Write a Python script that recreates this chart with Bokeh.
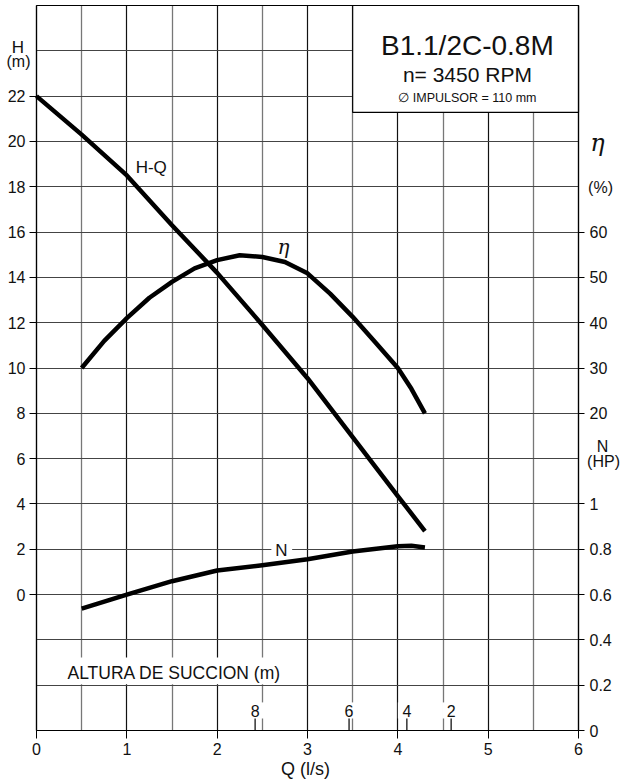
from bokeh.plotting import figure
from bokeh.models import LinearAxis, FixedTicker, Range1d, Grid
from bokeh.embed import file_html
from bokeh.resources import INLINE
from bokeh.core.properties import value

# ---- data ----
q_hq = [0, 0.5, 1, 1.5, 2, 2.5, 3, 3.5, 4, 4.3]
h_hq = [22, 20.3, 18.5, 16.3, 14.2, 11.9, 9.55, 6.95, 4.35, 2.8]

q_eff = [0.5, 0.75, 1, 1.25, 1.5, 1.75, 2, 2.25, 2.5, 2.75, 3, 3.25, 3.5, 3.75, 4, 4.15, 4.3]
eff_pct = [30, 36, 41, 45.5, 49, 52, 53.8, 54.9, 54.5, 53.4, 50.9, 46.4, 41.3, 35.7, 30, 25.4, 20]

q_n = [0.5, 1, 1.5, 2, 2.5, 3, 3.5, 4, 4.15, 4.3]
n_hp = [0.538, 0.6, 0.659, 0.706, 0.729, 0.756, 0.79, 0.813, 0.815, 0.808]

suction_m = [8, 6, 4, 2]
suction_q = [2.42, 3.46, 4.1, 4.59]

q_ticks = [0, 1, 2, 3, 4, 5, 6]
h_ticks = [0, 2, 4, 6, 8, 10, 12, 14, 16, 18, 20, 22]
eff_ticks = [20, 30, 40, 50, 60]
n_ticks = [0, 0.2, 0.4, 0.6, 0.8, 1]

Q_MIN, Q_MAX = 0, 6
H_MIN, H_MAX = -6, 26

FONT = "Liberation Sans"
INK = "#111111"

def eff_to_h(e):
    return round(0.2 * e + 4, 6)

def n_to_h(n):
    return round(10 * n - 6, 6)

# canvas ranges chosen so that the chart box sits where it does in the reference
p = figure(width=622, height=782,
           x_range=Range1d(-0.3985, 6.487), y_range=Range1d(-8.295, 26.221),
           output_backend="svg", toolbar_location=None,
           x_axis_location=None, y_axis_location=None,
           min_border_left=0, min_border_right=0, min_border_top=0, min_border_bottom=0)
p.outline_line_color = None
p.background_fill_color = "white"
p.border_fill_color = "white"
p.xgrid.visible = False
p.ygrid.visible = False

# grids limited to the chart box
g_int = Grid(dimension=0, ticker=FixedTicker(ticks=q_ticks), bounds=(Q_MIN, Q_MAX),
             cross_bounds=(H_MIN, H_MAX), grid_line_color="#111111", grid_line_width=1.2)
g_half = Grid(dimension=0, ticker=FixedTicker(ticks=[q + 0.5 for q in q_ticks[:-1]]),
              bounds=(Q_MIN, Q_MAX), cross_bounds=(H_MIN, H_MAX),
              grid_line_color="#777777", grid_line_width=1.3)
g_h = Grid(dimension=1, ticker=FixedTicker(ticks=list(range(H_MIN, H_MAX + 1, 2))),
           bounds=(H_MIN, H_MAX), cross_bounds=(Q_MIN, Q_MAX),
           grid_line_color="#444444", grid_line_width=1.2)
for g in (g_int, g_half, g_h):
    p.add_layout(g)

def mk_axis(ticks, loc, bounds, overrides=None, tick_out=7, standoff=4, labels=True):
    ax = LinearAxis(ticker=FixedTicker(ticks=ticks), fixed_location=loc, bounds=bounds,
                    major_tick_in=0, major_tick_out=tick_out, major_label_standoff=standoff,
                    minor_tick_line_color=None, axis_line_color="black", axis_line_width=1.2,
                    major_tick_line_color="black",
                    major_label_text_font=FONT, major_label_text_font_size="16px",
                    major_label_text_color=INK)
    if overrides:
        ax.major_label_overrides = overrides
    if not labels:
        ax.major_label_text_font_size = "0px"
        ax.major_tick_line_color = None
    return ax

p.add_layout(mk_axis(h_ticks, Q_MIN, (H_MIN, H_MAX), tick_out=7, standoff=4), "left")

r_ticks = [eff_to_h(e) for e in eff_ticks] + [n_to_h(n) for n in n_ticks]
r_labels = {eff_to_h(e): str(e) for e in eff_ticks}
r_labels.update({n_to_h(n): ("%g" % n) for n in n_ticks})
p.add_layout(mk_axis(r_ticks, Q_MAX, (H_MIN, H_MAX), overrides=r_labels, tick_out=6, standoff=5), "right")
p.add_layout(mk_axis(q_ticks, H_MIN, (Q_MIN, Q_MAX), tick_out=8, standoff=4), "below")
p.add_layout(mk_axis([], H_MAX, (Q_MIN, Q_MAX), labels=False), "above")

# white masks (title box, label breaks in the grid)
p.quad(left=[3.5], right=[Q_MAX], bottom=[21.28], top=[H_MAX], fill_color="white",
       line_color="black", line_width=1.2)
p.quad(left=[0.32], right=[2.77], bottom=[-3.96], top=[-2.78], fill_color="white", line_color=None)
p.quad(left=[2.60], right=[2.83], bottom=[1.6], top=[2.34], fill_color="white", line_color=None)
p.quad(left=[q - 0.1 for q in suction_q], right=[q + 0.1 for q in suction_q],
       bottom=-5.47, top=-4.76, fill_color="white", line_color=None)

# curves
lw = 4.5
p.line(q_hq, h_hq, line_color="black", line_width=lw, line_join="round")
p.line(q_eff, [eff_to_h(e) for e in eff_pct], line_color="black", line_width=lw, line_join="round")
p.line(q_n, [n_to_h(n) for n in n_hp], line_color="black", line_width=lw, line_join="round")

# suction-height scale
p.segment(x0=suction_q, y0=H_MIN, x1=suction_q, y1=-5.47, line_color="black", line_width=1.2)

def txt(x, y, t, size, font=FONT, style="normal", align="center"):
    p.text(x=[x], y=[y], text=[t], text_font=value(font), text_font_size=size,
           text_font_style=style, text_align=align, text_baseline="middle", text_color=INK)

p.text(x=suction_q, y=-5.16, text=[str(s) for s in suction_m], text_font=value(FONT),
       text_font_size="16px", text_align="center", text_baseline="middle", text_color=INK)
txt(0.343, -3.48, "ALTURA DE SUCCION (m)", "17.5px", align="left")

# curve labels
txt(1.27, 18.84, "H-Q", "17px")
txt(2.734, 15.32, "η", "20px", "DejaVu Serif", "italic")
txt(2.712, 1.96, "N", "17px")

# title box
txt(4.77, 24.23, "B1.1/2C-0.8M", "28px")
txt(4.77, 22.95, "n= 3450 RPM", "21px")
txt(4.77, 21.91, "∅ IMPULSOR = 110 mm", "12.5px")

# axis captions
txt(-0.205, 24.15, "H", "17px")
txt(-0.199, 23.53, "(m)", "16px")
txt(6.21, 19.95, "η", "24px", "DejaVu Serif", "italic")
txt(6.244, 17.95, "(%)", "16px")
txt(6.266, 6.53, "N", "16px")
txt(6.277, 5.87, "(HP)", "16px")
txt(3.006, -7.68, "Q  (l/s)", "18px")

open("out.html", "w").write(file_html(p, INLINE))
